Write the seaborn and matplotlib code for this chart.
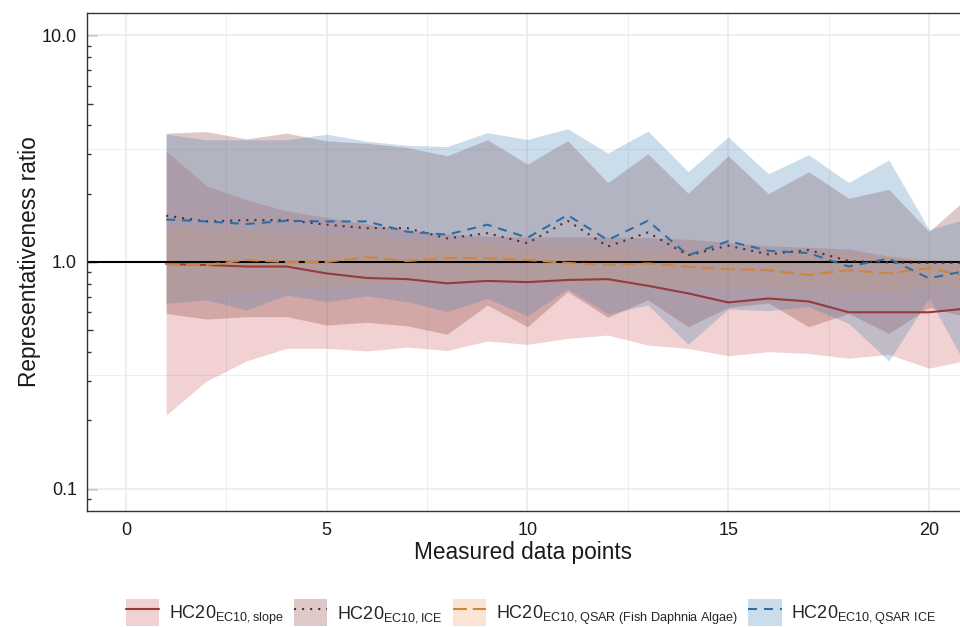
import numpy as np
import pandas as pd
import matplotlib
matplotlib.use("Agg")
import matplotlib.pyplot as plt
import seaborn as sns
from matplotlib.patches import Patch
from matplotlib.lines import Line2D
from matplotlib.ticker import FixedLocator, NullFormatter

# ---------------- data ----------------
measured_points = list(range(1, 22))

slope_median = [0.98, 0.97, 0.955, 0.955, 0.89, 0.85, 0.84, 0.805, 0.825, 0.815,
                0.833, 0.84, 0.785, 0.727, 0.663, 0.69, 0.67, 0.60, 0.60, 0.60, 0.625]
slope_lower = [0.211, 0.298, 0.366, 0.416, 0.416, 0.405, 0.421, 0.407, 0.448, 0.433,
               0.46, 0.476, 0.43, 0.416, 0.386, 0.402, 0.395, 0.376, 0.391, 0.34, 0.37]
slope_upper = [3.09, 2.17, 1.88, 1.68, 1.57, 1.47, 1.38, 1.33, 1.30, 1.29,
               1.29, 1.29, 1.28, 1.26, 1.22, 1.18, 1.16, 1.14, 1.06, 1.00, 0.98]

ice_median = [1.60, 1.51, 1.53, 1.53, 1.46, 1.41, 1.41, 1.27, 1.34, 1.21,
              1.52, 1.17, 1.35, 1.07, 1.18, 1.08, 1.13, 1.01, 0.995, 0.99, 0.99]
ice_lower = [0.593, 0.56, 0.574, 0.574, 0.527, 0.542, 0.523, 0.48, 0.646, 0.518,
             0.74, 0.57, 0.68, 0.518, 0.63, 0.66, 0.518, 0.593, 0.484, 0.63, 0.57]
ice_upper = [3.70, 3.76, 3.49, 3.70, 3.42, 3.34, 3.20, 2.94, 3.46, 2.70,
             3.43, 2.24, 3.00, 2.01, 2.94, 2.00, 2.50, 1.91, 2.09, 1.36, 1.95]

fda_median = [0.977, 0.97, 1.02, 1.0, 1.0, 1.05, 1.01, 1.04, 1.04, 1.02,
              0.99, 0.97, 0.985, 0.953, 0.93, 0.92, 0.876, 0.92, 0.89, 0.94, 0.86]
fda_lower = [0.66, 0.70, 0.75, 0.765, 0.78, 0.80, 0.805, 0.82, 0.82, 0.82,
             0.80, 0.80, 0.79, 0.78, 0.77, 0.77, 0.76, 0.75, 0.74, 0.79, 0.77]
fda_upper = [1.43, 1.40, 1.37, 1.35, 1.32, 1.29, 1.26, 1.24, 1.21, 1.19,
             1.17, 1.16, 1.15, 1.13, 1.11, 1.10, 1.09, 1.09, 1.07, 1.03, 1.00]

qice_median = [1.54, 1.51, 1.47, 1.52, 1.51, 1.51, 1.36, 1.32, 1.46, 1.28,
               1.61, 1.25, 1.52, 1.07, 1.235, 1.12, 1.095, 0.955, 1.035, 0.847, 0.92]
qice_lower = [0.657, 0.68, 0.614, 0.715, 0.668, 0.708, 0.668, 0.604, 0.691, 0.578,
              0.76, 0.59, 0.646, 0.433, 0.62, 0.61, 0.635, 0.536, 0.366, 0.69, 0.33]
qice_upper = [3.66, 3.46, 3.46, 3.46, 3.66, 3.41, 3.27, 3.23, 3.72, 3.47,
              3.87, 3.02, 3.78, 2.50, 3.56, 2.45, 2.97, 2.24, 2.82, 1.39, 1.56]

series_names = ["slope", "ICE", "QSAR FDA", "QSAR ICE"]
legend_labels = [r"HC20$_{\mathrm{EC10,slope}}$",
                 r"HC20$_{\mathrm{EC10,ICE}}$",
                 r"HC20$_{\mathrm{EC10,QSAR\ (Fish\ Daphnia\ Algae)}}$",
                 r"HC20$_{\mathrm{EC10,QSAR\ ICE}}$"]
x_ticks = [0, 5, 10, 15, 20]
y_ticks = [0.1, 1.0, 10.0]
y_tick_labels = ["0.1", "1.0", "10.0"]
x_label = "Measured data points"
y_label = "Representativeness ratio"

# ---------------- styles ----------------
line_colors = {"slope": "#963a3a", "ICE": "#5a2a2c", "QSAR FDA": "#cd853f", "QSAR ICE": "#2f6ea5"}
fill_colors = {"slope": "#cd5c5c", "ICE": "#8b3a3a", "QSAR FDA": "#f4a460", "QSAR ICE": "#4682b4"}
dash_styles = {"slope": "", "ICE": (1.5, 4.3), "QSAR FDA": (10.0, 4.3), "QSAR ICE": (6.5, 5.0)}
fill_alpha = 0.28

sns.set_style("white")
plt.rcParams["font.family"] = ["Liberation Sans", "DejaVu Sans"]
plt.rcParams["mathtext.fontset"] = "custom"
plt.rcParams["mathtext.rm"] = "Liberation Sans"
plt.rcParams["mathtext.it"] = "Liberation Sans:italic"
plt.rcParams["mathtext.bf"] = "Liberation Sans:bold"
plt.rcParams["lines.scale_dashes"] = False

bands = {
    "slope": (slope_median, slope_lower, slope_upper),
    "ICE": (ice_median, ice_lower, ice_upper),
    "QSAR FDA": (fda_median, fda_lower, fda_upper),
    "QSAR ICE": (qice_median, qice_lower, qice_upper),
}

rows = []
for name in series_names:
    med, lo, hi = bands[name]
    for n, m, l, h in zip(measured_points, med, lo, hi):
        rows.append({"n": n, "series": name, "ratio": m, "lower": l, "upper": h})
df = pd.DataFrame(rows)

fig = plt.figure(figsize=(9.6, 6.27), dpi=100)
ax = fig.add_axes([87 / 960, 116 / 627, 878 / 960, 498 / 627])
ax.set_yscale("log")

for name in series_names:
    sub = df[df["series"] == name]
    ax.fill_between(sub["n"], sub["lower"], sub["upper"], color=fill_colors[name],
                    alpha=fill_alpha, linewidth=0, zorder=1)

ax.axhline(1.0, color="black", lw=1.5, zorder=2)

sns.lineplot(data=df, x="n", y="ratio", hue="series", style="series",
             hue_order=series_names, style_order=series_names,
             palette=line_colors, dashes=dash_styles, linewidth=1.5,
             estimator=None, sort=False, legend=False, ax=ax, zorder=3)
for ln in ax.lines:
    ln.set_dash_capstyle("butt")

ax.set_xlim(-0.971, 20.897)
ax.set_ylim(0.0797, 12.54)

# ticks & grid
ax.set_xticks(x_ticks)
ax.set_yticks(y_ticks, y_tick_labels)
ax.xaxis.set_minor_locator(FixedLocator([2.5, 7.5, 12.5, 17.5, 22.5]))
ax.yaxis.set_minor_locator(FixedLocator([10 ** -0.5, 10 ** 0.5]))
ax.xaxis.set_minor_formatter(NullFormatter())
ax.yaxis.set_minor_formatter(NullFormatter())
ax.tick_params(which="major", direction="out", length=4.3, width=1.0, color="#333333",
               labelsize=13, labelcolor="#1a1a1a")
ax.tick_params(axis="y", which="major", pad=3)
ax.tick_params(axis="x", which="major", pad=3.5)
ax.tick_params(which="minor", length=0)
ax.grid(which="major", color="#ebebeb", lw=1.2)
ax.grid(which="minor", color="#ebebeb", lw=0.6)
ax.set_axisbelow(True)
for sp in ax.spines.values():
    sp.set_color("#333333")
    sp.set_linewidth(1.0)
ax.set_xlabel("")
ax.set_ylabel("")

# inside log ticks
sec = ax.secondary_yaxis("left")
sec.set_yticks(y_ticks)
sec.yaxis.set_minor_locator(FixedLocator([0.09, 0.2, 0.3, 0.4, 0.6, 0.7, 0.8, 0.9,
                                          2, 3, 4, 6, 7, 8, 9]))
sec.yaxis.set_minor_formatter(NullFormatter())
sec.tick_params(which="major", direction="in", length=7.2, width=1.0, color="#333333", labelleft=False)
sec.tick_params(which="minor", direction="in", length=2.9, width=1.0, color="#333333")
sec.spines["left"].set_visible(False)

sec2 = ax.secondary_yaxis("left")
sec2.set_yticks([0.5, 5])
sec2.yaxis.set_minor_locator(FixedLocator([]))
sec2.tick_params(which="major", direction="in", length=4.3, width=1.0, color="#333333", labelleft=False)
sec2.spines["left"].set_visible(False)

fig.text(523 / 960, 1 - 559 / 627, x_label, ha="center", va="baseline", fontsize=16.3, color="#1a1a1a")
fig.text(30 / 960, 1 - 262 / 627, y_label, ha="center", va="center", rotation=90,
         fontsize=16.3, color="#1a1a1a")

handles = []
for name in series_names:
    p = Patch(facecolor=fill_colors[name], alpha=fill_alpha, edgecolor="none")
    kw = {}
    if dash_styles[name]:
        kw["dashes"] = dash_styles[name]
    l = Line2D([0, 1], [0, 0], color=line_colors[name], lw=1.5, dash_capstyle="butt", **kw)
    handles.append((p, l))

fig.legend(handles, legend_labels, loc="center", bbox_to_anchor=(531 / 960, 1 - 613 / 627),
           ncol=4, frameon=False, fontsize=13, handlelength=1.85, handleheight=1.9,
           handletextpad=0.55, columnspacing=0.55, borderpad=0, borderaxespad=0)

fig.savefig("out.png", dpi=100)
